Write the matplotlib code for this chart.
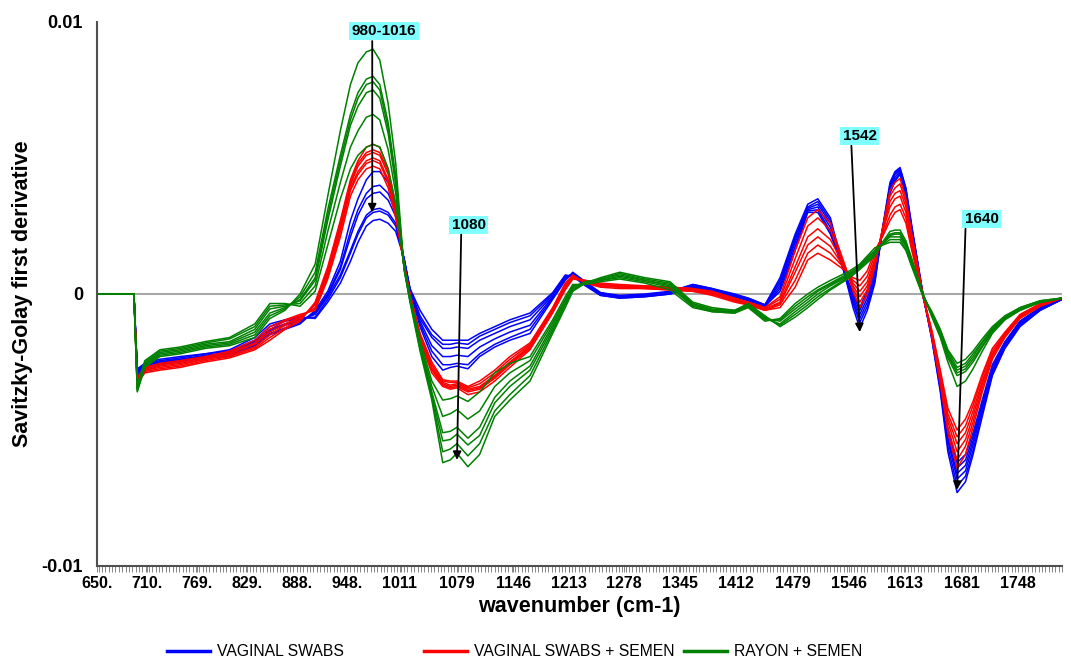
import numpy as np
import matplotlib
matplotlib.use("Agg")
import matplotlib.pyplot as plt
from matplotlib.ticker import MultipleLocator, FixedLocator

# spectra values are in units of 1e-3 (Savitzky-Golay first derivative)
WAVENUMBER = [650, 694, 698, 707, 725, 749, 779, 808, 838, 856,
              874, 892, 910, 925, 940, 952, 961, 971, 979, 987,
              997, 1006, 1016, 1023, 1035, 1049, 1062, 1071, 1079, 1092,
              1106, 1124, 1142, 1166, 1193, 1208, 1217, 1232, 1250, 1273,
              1303, 1333, 1360, 1383, 1410, 1426, 1446, 1464, 1482, 1497,
              1509, 1524, 1542, 1551, 1559, 1568, 1577, 1586, 1595, 1601,
              1607, 1614, 1621, 1634, 1645, 1655, 1664, 1675, 1685, 1694,
              1705, 1717, 1732, 1750, 1774, 1800]

# one row per wavenumber, one column per sample
BLUE_SPECTRA = [
    [0, 0, 0, 0, 0, 0],
    [0, 0, 0, 0, 0, 0],
    [-3.0, -2.95, -2.9, -2.85, -2.8, -2.75],
    [-2.75, -2.7, -2.65, -2.6, -2.6, -2.55],
    [-2.6, -2.55, -2.5, -2.5, -2.45, -2.4],
    [-2.5, -2.45, -2.4, -2.4, -2.35, -2.3],
    [-2.35, -2.3, -2.3, -2.25, -2.2, -2.2],
    [-2.3, -2.25, -2.2, -2.15, -2.1, -2.05],
    [-1.9, -1.85, -1.8, -1.75, -1.7, -1.6],
    [-1.5, -1.45, -1.35, -1.3, -1.2, -1.1],
    [-1.3, -1.25, -1.15, -1.1, -1.0, -0.95],
    [-1.1, -1.05, -1.0, -0.95, -0.9, -0.85],
    [-0.6, -0.65, -0.7, -0.75, -0.85, -0.9],
    [0.1, 0.0, -0.05, -0.1, -0.2, -0.3],
    [1.2, 1.0, 0.9, 0.7, 0.6, 0.4],
    [2.7, 2.3, 2.1, 1.6, 1.5, 1.2],
    [3.5, 3.1, 2.9, 2.3, 2.2, 1.9],
    [4.2, 3.7, 3.5, 2.9, 2.8, 2.5],
    [4.5, 3.95, 3.7, 3.1, 3.0, 2.7],
    [4.5, 4.0, 3.75, 3.15, 3.05, 2.75],
    [4.1, 3.7, 3.45, 3.0, 2.9, 2.6],
    [3.3, 3.0, 2.85, 2.6, 2.5, 2.3],
    [1.2, 1.2, 1.25, 1.25, 1.3, 1.3],
    [0.1, 0.1, 0.15, 0.15, 0.2, 0.2],
    [-1.2, -1.1, -1.0, -0.9, -0.8, -0.6],
    [-2.3, -2.1, -1.9, -1.6, -1.5, -1.3],
    [-2.8, -2.6, -2.3, -2.0, -1.85, -1.7],
    [-2.7, -2.6, -2.3, -2.0, -1.85, -1.7],
    [-2.65, -2.55, -2.25, -1.95, -1.8, -1.7],
    [-2.75, -2.6, -2.3, -2.0, -1.85, -1.7],
    [-2.3, -2.2, -1.95, -1.7, -1.55, -1.45],
    [-1.95, -1.85, -1.65, -1.45, -1.3, -1.2],
    [-1.7, -1.6, -1.4, -1.2, -1.05, -0.95],
    [-1.45, -1.3, -1.15, -0.95, -0.8, -0.7],
    [-0.2, -0.15, -0.1, -0.05, 0.0, 0.05],
    [0.5, 0.55, 0.6, 0.6, 0.65, 0.7],
    [0.8, 0.75, 0.75, 0.7, 0.7, 0.65],
    [0.45, 0.4, 0.4, 0.35, 0.35, 0.3],
    [0.05, 0.05, 0.0, 0.0, -0.05, -0.05],
    [-0.05, -0.1, -0.1, -0.1, -0.15, -0.15],
    [0.0, -0.05, -0.05, -0.05, -0.1, -0.1],
    [0.1, 0.05, 0.05, 0.05, 0.0, 0.0],
    [0.35, 0.35, 0.3, 0.3, 0.25, 0.25],
    [0.2, 0.2, 0.15, 0.15, 0.1, 0.1],
    [0.0, -0.05, -0.05, -0.1, -0.1, -0.1],
    [-0.15, -0.15, -0.2, -0.2, -0.2, -0.25],
    [-0.4, -0.4, -0.4, -0.45, -0.45, -0.45],
    [0.6, 0.5, 0.4, 0.3, 0.2, 0.1],
    [2.2, 2.1, 2.0, 1.9, 1.75, 1.6],
    [3.3, 3.2, 3.15, 3.1, 3.05, 3.0],
    [3.5, 3.4, 3.3, 3.2, 3.1, 3.0],
    [2.8, 2.7, 2.6, 2.45, 2.3, 2.2],
    [0.6, 0.6, 0.65, 0.65, 0.7, 0.7],
    [-0.5, -0.35, -0.25, -0.15, -0.05, 0.05],
    [-1.25, -1.05, -0.9, -0.75, -0.6, -0.5],
    [-0.6, -0.45, -0.3, -0.15, 0.0, 0.15],
    [0.4, 0.5, 0.6, 0.7, 0.85, 1.0],
    [2.4, 2.35, 2.3, 2.3, 2.3, 2.35],
    [4.1, 4.0, 3.95, 3.85, 3.75, 3.7],
    [4.5, 4.45, 4.4, 4.3, 4.2, 4.15],
    [4.65, 4.6, 4.55, 4.5, 4.45, 4.4],
    [3.9, 3.85, 3.8, 3.75, 3.7, 3.6],
    [2.5, 2.45, 2.4, 2.35, 2.3, 2.2],
    [0.05, 0.05, 0.0, 0.0, 0.0, -0.05],
    [-1.7, -1.65, -1.6, -1.55, -1.55, -1.5],
    [-3.6, -3.5, -3.4, -3.35, -3.3, -3.2],
    [-5.8, -5.6, -5.4, -5.3, -5.15, -5.0],
    [-7.3, -7.05, -6.8, -6.6, -6.4, -6.2],
    [-6.9, -6.7, -6.5, -6.3, -6.1, -5.9],
    [-5.9, -5.75, -5.55, -5.4, -5.25, -5.1],
    [-4.5, -4.35, -4.2, -4.1, -4.0, -3.9],
    [-3.0, -2.95, -2.85, -2.8, -2.7, -2.6],
    [-2.0, -1.95, -1.9, -1.85, -1.8, -1.75],
    [-1.2, -1.15, -1.1, -1.05, -1.0, -1.0],
    [-0.6, -0.6, -0.55, -0.55, -0.5, -0.5],
    [-0.2, -0.2, -0.2, -0.15, -0.15, -0.15],
]

RED_SPECTRA = [
    [0, 0, 0, 0, 0, 0],
    [0, 0, 0, 0, 0, 0],
    [-3.3, -3.25, -3.2, -3.15, -3.1, -3.05],
    [-2.9, -2.85, -2.8, -2.8, -2.75, -2.7],
    [-2.8, -2.75, -2.7, -2.65, -2.6, -2.55],
    [-2.7, -2.65, -2.6, -2.55, -2.5, -2.45],
    [-2.5, -2.45, -2.4, -2.4, -2.35, -2.3],
    [-2.35, -2.3, -2.25, -2.2, -2.15, -2.1],
    [-2.05, -2.0, -1.95, -1.85, -1.8, -1.7],
    [-1.7, -1.6, -1.5, -1.4, -1.3, -1.2],
    [-1.3, -1.25, -1.15, -1.1, -1.0, -0.95],
    [-1.0, -0.95, -0.9, -0.85, -0.8, -0.75],
    [-0.3, -0.35, -0.4, -0.5, -0.55, -0.6],
    [1.0, 0.9, 0.8, 0.75, 0.65, 0.55],
    [2.7, 2.6, 2.5, 2.4, 2.25, 2.1],
    [4.2, 4.1, 4.0, 3.9, 3.8, 3.6],
    [4.9, 4.8, 4.7, 4.5, 4.4, 4.2],
    [5.4, 5.2, 5.1, 4.9, 4.8, 4.6],
    [5.5, 5.3, 5.2, 5.0, 4.9, 4.7],
    [5.4, 5.2, 5.1, 4.9, 4.8, 4.6],
    [4.6, 4.5, 4.4, 4.2, 4.1, 3.9],
    [3.3, 3.2, 3.1, 3.0, 2.9, 2.8],
    [1.0, 1.0, 1.05, 1.05, 1.1, 1.1],
    [-0.15, -0.1, -0.1, -0.05, 0.0, 0.0],
    [-1.7, -1.65, -1.6, -1.55, -1.5, -1.45],
    [-2.9, -2.8, -2.75, -2.7, -2.6, -2.5],
    [-3.4, -3.35, -3.3, -3.25, -3.2, -3.15],
    [-3.5, -3.45, -3.4, -3.35, -3.25, -3.2],
    [-3.45, -3.4, -3.35, -3.3, -3.25, -3.2],
    [-3.7, -3.6, -3.55, -3.5, -3.45, -3.4],
    [-3.6, -3.5, -3.45, -3.4, -3.3, -3.2],
    [-3.2, -3.1, -3.05, -3.0, -2.9, -2.8],
    [-2.7, -2.6, -2.55, -2.5, -2.4, -2.3],
    [-2.05, -2.0, -1.95, -1.9, -1.85, -1.8],
    [-0.7, -0.65, -0.6, -0.6, -0.55, -0.5],
    [0.15, 0.2, 0.25, 0.3, 0.35, 0.4],
    [0.55, 0.6, 0.6, 0.65, 0.65, 0.7],
    [0.5, 0.5, 0.45, 0.45, 0.4, 0.4],
    [0.4, 0.35, 0.35, 0.3, 0.3, 0.25],
    [0.35, 0.3, 0.3, 0.25, 0.25, 0.2],
    [0.3, 0.3, 0.25, 0.25, 0.2, 0.2],
    [0.25, 0.25, 0.2, 0.2, 0.15, 0.15],
    [0.2, 0.2, 0.15, 0.15, 0.1, 0.1],
    [0.1, 0.05, 0.05, 0.0, 0.0, -0.05],
    [-0.15, -0.2, -0.2, -0.25, -0.25, -0.3],
    [-0.3, -0.3, -0.35, -0.35, -0.4, -0.4],
    [-0.5, -0.5, -0.55, -0.55, -0.6, -0.6],
    [-0.1, -0.2, -0.3, -0.35, -0.4, -0.5],
    [1.6, 1.3, 1.0, 0.8, 0.5, 0.25],
    [2.8, 2.5, 2.1, 1.8, 1.5, 1.25],
    [3.1, 2.8, 2.4, 2.1, 1.8, 1.5],
    [2.6, 2.35, 2.0, 1.75, 1.5, 1.25],
    [1.0, 0.95, 0.95, 0.9, 0.9, 0.85],
    [0.1, 0.2, 0.3, 0.4, 0.5, 0.6],
    [-0.5, -0.3, -0.1, 0.1, 0.3, 0.5],
    [0.0, 0.15, 0.3, 0.45, 0.65, 0.85],
    [1.0, 1.1, 1.2, 1.3, 1.45, 1.6],
    [2.4, 2.35, 2.3, 2.25, 2.15, 2.1],
    [3.8, 3.6, 3.4, 3.2, 2.9, 2.7],
    [4.1, 3.9, 3.7, 3.5, 3.2, 3.0],
    [4.25, 4.05, 3.8, 3.6, 3.3, 3.1],
    [3.5, 3.35, 3.2, 3.0, 2.8, 2.6],
    [2.2, 2.1, 2.0, 1.85, 1.7, 1.6],
    [0.05, 0.0, 0.0, 0.0, 0.0, -0.05],
    [-1.6, -1.55, -1.5, -1.45, -1.4, -1.35],
    [-3.3, -3.2, -3.1, -3.0, -2.9, -2.8],
    [-5.1, -4.9, -4.7, -4.55, -4.4, -4.2],
    [-6.4, -6.1, -5.8, -5.5, -5.25, -5.0],
    [-5.9, -5.6, -5.35, -5.1, -4.85, -4.6],
    [-4.9, -4.7, -4.5, -4.3, -4.1, -3.95],
    [-3.6, -3.45, -3.3, -3.2, -3.05, -2.95],
    [-2.4, -2.3, -2.25, -2.2, -2.1, -2.0],
    [-1.6, -1.55, -1.5, -1.5, -1.45, -1.4],
    [-0.9, -0.85, -0.85, -0.8, -0.8, -0.75],
    [-0.45, -0.45, -0.4, -0.4, -0.4, -0.35],
    [-0.15, -0.15, -0.15, -0.15, -0.15, -0.15],
]

GREEN_SPECTRA = [
    [0, 0, 0, 0, 0, 0],
    [0, 0, 0, 0, 0, 0],
    [-3.6, -3.55, -3.5, -3.45, -3.4, -3.35],
    [-2.7, -2.65, -2.6, -2.55, -2.5, -2.45],
    [-2.3, -2.25, -2.2, -2.15, -2.1, -2.05],
    [-2.2, -2.15, -2.1, -2.05, -2.0, -1.95],
    [-2.0, -1.95, -1.9, -1.85, -1.8, -1.75],
    [-1.9, -1.85, -1.8, -1.75, -1.65, -1.6],
    [-1.6, -1.5, -1.4, -1.3, -1.2, -1.1],
    [-0.9, -0.8, -0.7, -0.55, -0.45, -0.35],
    [-0.6, -0.55, -0.5, -0.45, -0.4, -0.35],
    [0.0, -0.1, -0.2, -0.25, -0.35, -0.45],
    [1.1, 0.8, 0.6, 0.5, 0.3, 0.1],
    [3.6, 3.1, 2.9, 2.7, 2.3, 1.8],
    [6.0, 5.1, 4.9, 4.7, 4.1, 3.5],
    [7.7, 6.6, 6.4, 6.2, 5.4, 4.6],
    [8.5, 7.4, 7.2, 6.9, 6.0, 5.1],
    [8.9, 7.9, 7.7, 7.4, 6.5, 5.4],
    [9.0, 8.0, 7.8, 7.5, 6.6, 5.5],
    [8.6, 7.7, 7.5, 7.2, 6.4, 5.4],
    [7.0, 6.3, 6.1, 5.9, 5.3, 4.6],
    [4.8, 4.3, 4.2, 4.0, 3.7, 3.3],
    [0.9, 0.9, 0.95, 0.95, 1.0, 1.0],
    [-0.3, -0.25, -0.2, -0.2, -0.15, -0.1],
    [-2.1, -2.0, -1.9, -1.85, -1.8, -1.7],
    [-3.9, -3.8, -3.7, -3.6, -3.4, -3.2],
    [-6.2, -5.8, -5.4, -5.1, -4.5, -3.9],
    [-6.1, -5.7, -5.35, -5.05, -4.4, -3.85],
    [-5.85, -5.5, -5.15, -4.9, -4.25, -3.75],
    [-6.35, -5.95, -5.55, -5.3, -4.6, -3.95],
    [-5.9, -5.5, -5.2, -4.9, -4.3, -3.6],
    [-4.5, -4.3, -4.0, -3.8, -3.4, -2.9],
    [-3.9, -3.7, -3.4, -3.2, -2.9, -2.55],
    [-3.2, -3.0, -2.8, -2.65, -2.45, -2.3],
    [-1.45, -1.35, -1.25, -1.15, -1.05, -0.95],
    [-0.5, -0.4, -0.35, -0.25, -0.2, -0.1],
    [0.1, 0.15, 0.2, 0.25, 0.3, 0.35],
    [0.4, 0.4, 0.45, 0.45, 0.4, 0.35],
    [0.6, 0.55, 0.55, 0.5, 0.5, 0.45],
    [0.8, 0.75, 0.7, 0.65, 0.6, 0.55],
    [0.6, 0.55, 0.5, 0.5, 0.45, 0.4],
    [0.45, 0.4, 0.35, 0.3, 0.25, 0.15],
    [-0.3, -0.35, -0.4, -0.4, -0.45, -0.5],
    [-0.5, -0.55, -0.6, -0.6, -0.65, -0.65],
    [-0.6, -0.6, -0.65, -0.65, -0.7, -0.7],
    [-0.35, -0.4, -0.4, -0.45, -0.45, -0.5],
    [-0.8, -0.85, -0.9, -0.9, -0.95, -1.0],
    [-1.2, -1.15, -1.1, -1.0, -0.95, -0.9],
    [-0.85, -0.75, -0.65, -0.55, -0.45, -0.35],
    [-0.5, -0.4, -0.3, -0.2, -0.1, 0.0],
    [-0.2, -0.1, 0.0, 0.1, 0.15, 0.25],
    [0.15, 0.2, 0.3, 0.35, 0.4, 0.5],
    [0.5, 0.55, 0.6, 0.65, 0.7, 0.77],
    [0.7, 0.75, 0.8, 0.82, 0.87, 0.93],
    [0.9, 0.95, 1.0, 1.0, 1.05, 1.1],
    [1.15, 1.2, 1.25, 1.3, 1.35, 1.4],
    [1.4, 1.45, 1.5, 1.55, 1.6, 1.7],
    [1.9, 1.85, 1.85, 1.85, 1.8, 1.8],
    [2.3, 2.2, 2.15, 2.1, 2.0, 1.9],
    [2.35, 2.25, 2.2, 2.1, 2.0, 1.9],
    [2.35, 2.25, 2.2, 2.1, 2.0, 1.9],
    [1.95, 1.85, 1.8, 1.75, 1.65, 1.6],
    [1.3, 1.25, 1.2, 1.15, 1.05, 1.0],
    [0.05, 0.0, 0.0, 0.0, -0.05, -0.05],
    [-0.85, -0.8, -0.8, -0.75, -0.7, -0.65],
    [-1.6, -1.5, -1.45, -1.4, -1.35, -1.3],
    [-2.5, -2.35, -2.25, -2.2, -2.1, -2.05],
    [-3.4, -3.0, -2.9, -2.8, -2.7, -2.55],
    [-3.2, -2.85, -2.75, -2.65, -2.55, -2.4],
    [-2.75, -2.5, -2.4, -2.3, -2.2, -2.1],
    [-2.1, -1.95, -1.9, -1.8, -1.75, -1.65],
    [-1.45, -1.4, -1.35, -1.3, -1.25, -1.2],
    [-0.95, -0.9, -0.9, -0.85, -0.85, -0.8],
    [-0.6, -0.6, -0.55, -0.55, -0.5, -0.5],
    [-0.3, -0.3, -0.3, -0.3, -0.25, -0.25],
    [-0.15, -0.15, -0.15, -0.15, -0.15, -0.15],
]

GROUP_NAMES = ["VAGINAL SWABS", "VAGINAL SWABS + SEMEN", "RAYON + SEMEN"]
TICK_WN = [650, 710, 769, 829, 888, 948, 1011, 1079, 1146, 1213,
           1278, 1345, 1412, 1479, 1546, 1613, 1681, 1748]
TICK_LABELS = ["650.", "710.", "769.", "829.", "888.", "948.", "1011", "1079", "1146",
               "1213", "1278", "1345", "1412", "1479", "1546", "1613", "1681", "1748"]
ANNOTATIONS = ["980-1016", "1080", "1542", "1640"]
ANNOT_TEXT_XY = [(992, 9.67), (1093, 2.54), (1559, 5.81), (1704, 2.76)]
ANNOT_START = [(978, 9.3), (1084, 2.2), (1549, 5.45), (1685, 2.4)]
ANNOT_TIP = [(978, 3.0), (1079, -6.1), (1559, -1.4), (1675, -7.2)]

SCALE = 1e-3
FONT = ["Liberation Sans", "DejaVu Sans"]

fig = plt.figure(figsize=(10.71, 6.6), dpi=100)
ax = fig.add_axes([97 / 1071, 1 - 566 / 660, 965 / 1071, 544 / 660])

wn = np.array(WAVENUMBER)
colors = ["#0000FF", "#FF0000", "#008000"]
handles = []
for spectra, color in zip([BLUE_SPECTRA, RED_SPECTRA, GREEN_SPECTRA], colors):
    arr = np.array(spectra) * SCALE
    lines = ax.plot(wn, arr, color=color, lw=1.1, zorder=3)
    handles.append(lines[0])

ax.axhline(0, color="#A8A8A8", lw=1.5, zorder=1)

ax.set_xlim(650, 1800)
ax.set_ylim(-0.01, 0.01)

# axis styling
for side in ["top", "right"]:
    ax.spines[side].set_visible(False)
ax.spines["left"].set_color("#505050")
ax.spines["left"].set_linewidth(1.5)
ax.spines["bottom"].set_color("#505050")
ax.spines["bottom"].set_linewidth(1.5)

ax.xaxis.set_major_locator(FixedLocator(TICK_WN))
ax.set_xticklabels(TICK_LABELS, fontfamily=FONT, fontweight="bold", fontsize=11.5)
ax.xaxis.set_minor_locator(MultipleLocator(4))
ax.tick_params(axis="x", which="both", direction="out", length=4, width=0.6,
               color="#707070", pad=3)

ax.set_yticks([-0.01, 0, 0.01])
ax.set_yticklabels(["-0.01", "0", "0.01"], fontfamily=FONT, fontweight="bold", fontsize=13)
ax.tick_params(axis="y", length=0, pad=10)

ax.set_xlabel("wavenumber (cm-1)", fontfamily=FONT, fontweight="bold", fontsize=15.5)
ax.xaxis.set_label_coords(0.5, -0.056)
ax.set_ylabel("Savitzky-Golay first derivative", fontfamily=FONT, fontweight="bold", fontsize=15.5)
ax.yaxis.set_label_coords(-0.066, 0.5)

# annotations
for label, txy, start, tip in zip(ANNOTATIONS, ANNOT_TEXT_XY, ANNOT_START, ANNOT_TIP):
    ax.annotate("", xy=(tip[0], tip[1] * SCALE), xytext=(start[0], start[1] * SCALE),
                arrowprops=dict(arrowstyle="-|>", color="black", lw=1.3,
                                mutation_scale=12, shrinkA=0, shrinkB=0),
                zorder=6)
    ax.text(txy[0], txy[1] * SCALE, label, ha="center", va="center",
            fontfamily=FONT, fontweight="bold", fontsize=11, zorder=7,
            bbox=dict(boxstyle="square,pad=0.15", facecolor="#80FFFF", edgecolor="none"))

# legend, three separate entries along the bottom
leg_x = [167 / 1071, 424 / 1071, 684 / 1071]
for h, name, x0 in zip(handles, GROUP_NAMES, leg_x):
    leg = fig.legend([h], [name], loc="center left", bbox_to_anchor=(x0, 8 / 660),
                     frameon=False, borderpad=0, borderaxespad=0,
                     handlelength=2.75, handletextpad=0.45,
                     prop={"family": FONT, "size": 11.3})
    leg.get_lines()[0].set_linewidth(2.5)

fig.savefig("out.png", dpi=100)
